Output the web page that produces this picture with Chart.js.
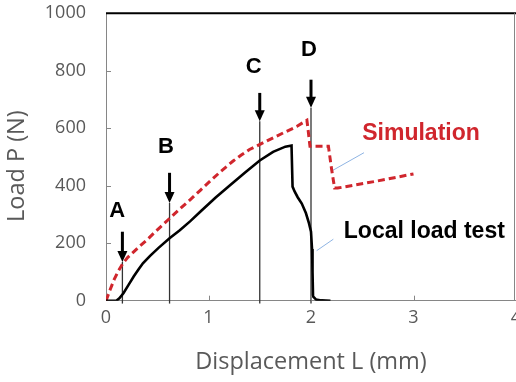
<!DOCTYPE html>
<html><head><meta charset="utf-8">
<script src="https://cdn.jsdelivr.net/npm/chart.js@4.4.1/dist/chart.umd.min.js"></script>
<style>
html,body{margin:0;padding:0;background:#fff;overflow:hidden}
#wrap{width:516px;height:382px;overflow:hidden;position:relative}
#c{position:absolute;left:0;top:0}
</style></head><body>
<div id="wrap"><canvas id="c" width="530" height="382"></canvas></div>
<script>
// ---- data ----
const xTicks = [0, 1, 2, 3, 4];
const yTicks = [0, 200, 400, 600, 800, 1000];

const testX = [0, 0.10, 0.13, 0.17, 0.22, 0.27, 0.32, 0.36, 0.43, 0.51, 0.62, 0.72, 0.82, 0.93, 1.07, 1.21, 1.36, 1.50, 1.63, 1.75, 1.81, 1.82, 1.84, 1.87, 1.91, 1.95, 1.98, 2.00, 2.01, 2.015, 2.02, 2.05, 2.10, 2.19];
const testP = [0, 0, 8, 26, 55, 84, 110, 130, 156, 183, 217, 245, 276, 313, 359, 402, 447, 488, 518, 536, 540, 397, 380, 360, 338, 305, 270, 240, 180, 100, 15, 4, 1, 0];

const simX = [0, 0.04, 0.08, 0.12, 0.16, 0.21, 0.27, 0.33, 0.40, 0.47, 0.53, 0.62, 0.72, 0.82, 0.92, 1.01, 1.12, 1.24, 1.32, 1.40, 1.57, 1.73, 1.86, 1.96, 1.97, 1.99, 2.17, 2.20, 2.23, 2.26, 2.64, 3.0];
const simP = [0, 38, 74, 103, 127, 150, 170, 190, 212, 236, 256, 286, 319, 351, 384, 414, 450, 486, 507, 526, 556, 584, 606, 628, 600, 537, 537, 460, 392, 392, 416, 441];

const markerNames = ['A', 'B', 'C', 'D'];
const markerX = [0.16, 0.62, 1.50, 2.00];
const arrowTipP = [135, 340, 624, 671];
const arrowTailP = [240, 445, 723, 769];
const markerLabelX = [0.11, 0.585, 1.44, 1.98];
const markerLabelP = [313, 536, 814, 873];
const lineBottomP = -10;

const simLabel = 'Simulation';
const testLabel = 'Local load test';
const simLabelPos = [2.50, 580];
const testLabelPos = [2.32, 239];
const simLeaderX = [2.205, 2.517], simLeaderP = [452, 515];
const testLeaderX = [2.055, 2.218], testLeaderP = [174, 214];

// ---- styling ----
const GRAY_TEXT = '#595959';
const AXIS_GRAY = '#868686';
const RED = '#d0262d';
const LEADER = '#8fb4e3';

const pts = (xs, ys) => xs.map((x, i) => ({x, y: ys[i]}));

const datasets = [
  {label: 'test', data: pts(testX, testP), borderColor: '#000', borderWidth: 2.6, pointRadius: 0, showLine: true, tension: 0, fill: false},
  {label: 'sim', data: pts(simX, simP), borderColor: RED, borderWidth: 3, borderDash: [7, 4], pointRadius: 0, showLine: true, tension: 0, fill: false},
];
markerX.forEach((mx, i) => {
  datasets.push({label: 'v' + i, data: [{x: mx, y: lineBottomP}, {x: mx, y: arrowTipP[i]}], borderColor: '#333', borderWidth: 1.3, pointRadius: 0, showLine: true, clip: false});
});
datasets.push({label: 'l1', data: pts(simLeaderX, simLeaderP), borderColor: LEADER, borderWidth: 1, pointRadius: 0, showLine: true});
datasets.push({label: 'l2', data: pts(testLeaderX, testLeaderP), borderColor: LEADER, borderWidth: 1, pointRadius: 0, showLine: true});

const decor = {
  id: 'decor',
  afterDatasetsDraw(chart) {
    const {ctx, chartArea: a, scales: {x, y}} = chart;
    ctx.save();
    ctx.strokeStyle = AXIS_GRAY; ctx.lineWidth = 1;
    yTicks.forEach(v => { if (v === 0 || v === 1000) return; const py = Math.round(y.getPixelForValue(v)) + 0.5; ctx.beginPath(); ctx.moveTo(a.left, py); ctx.lineTo(a.left + 5, py); ctx.stroke(); });
    xTicks.forEach(v => { if (v === 0) return; const px = Math.round(x.getPixelForValue(v)) + 0.5; ctx.beginPath(); ctx.moveTo(px, a.bottom); ctx.lineTo(px, a.bottom - 5); ctx.stroke(); });
    ctx.strokeStyle = '#000'; ctx.lineWidth = 2;
    ctx.beginPath(); ctx.moveTo(a.left, a.top); ctx.lineTo(a.right, a.top); ctx.stroke();
    ctx.strokeStyle = AXIS_GRAY; ctx.lineWidth = 1;
    ctx.beginPath(); ctx.moveTo(a.right - 1.5, a.top); ctx.lineTo(a.right - 1.5, a.bottom); ctx.stroke();
    ctx.fillStyle = '#000'; ctx.strokeStyle = '#000';
    markerX.forEach((mx, i) => {
      const px = x.getPixelForValue(mx);
      const tip = y.getPixelForValue(arrowTipP[i]);
      const tail = y.getPixelForValue(arrowTailP[i]);
      ctx.lineWidth = 3;
      ctx.beginPath(); ctx.moveTo(px, tail); ctx.lineTo(px, tip - 9); ctx.stroke();
      ctx.beginPath(); ctx.moveTo(px - 5, tip - 11); ctx.lineTo(px + 5, tip - 11); ctx.lineTo(px, tip); ctx.closePath(); ctx.fill();
      ctx.font = 'bold 22px "Liberation Sans", Arial, sans-serif';
      ctx.textAlign = 'center'; ctx.textBaseline = 'middle';
      ctx.fillText(markerNames[i], x.getPixelForValue(markerLabelX[i]), y.getPixelForValue(markerLabelP[i]));
    });
    ctx.font = 'bold 23px "Liberation Sans", Arial, sans-serif';
    ctx.textAlign = 'left'; ctx.textBaseline = 'middle';
    ctx.fillStyle = RED;
    ctx.fillText(simLabel, x.getPixelForValue(simLabelPos[0]), y.getPixelForValue(simLabelPos[1]));
    ctx.fillStyle = '#000';
    ctx.fillText(testLabel, x.getPixelForValue(testLabelPos[0]), y.getPixelForValue(testLabelPos[1]));
    ctx.restore();
  }
};

new Chart(document.getElementById('c'), {
  type: 'scatter',
  data: {datasets},
  plugins: [decor],
  options: {
    responsive: false, animation: false, devicePixelRatio: 1,
    layout: {padding: {top: 13.3, right: 14, left: 0, bottom: 0}},
    plugins: {legend: {display: false}, tooltip: {enabled: false}},
    scales: {
      x: {
        type: 'linear', min: 0, max: 4,
        afterBuildTicks: s => { s.ticks = xTicks.map(v => ({value: v})); },
        afterFit: s => { s.height = 81.3; s.paddingLeft = 0; s.paddingRight = 0; },
        grid: {display: false, drawTicks: false},
        border: {display: true, color: AXIS_GRAY, width: 1},
        ticks: {padding: 6, color: GRAY_TEXT, font: {family: '"Open Sans"', size: 18}, callback: v => String(v)},
        title: {display: true, text: 'Displacement L (mm)', color: GRAY_TEXT, font: {family: '"Open Sans"', size: 23.5}, padding: {top: 0, bottom: 5.6}}
      },
      y: {
        type: 'linear', min: 0, max: 1000,
        afterBuildTicks: s => { s.ticks = yTicks.map(v => ({value: v})); },
        afterFit: s => { s.width = 106; s.paddingTop = 0; s.paddingBottom = 0; },
        grid: {display: false, drawTicks: false},
        border: {display: true, color: AXIS_GRAY, width: 1},
        ticks: {padding: 20, color: GRAY_TEXT, font: {family: '"Open Sans"', size: 18}, callback: v => String(v)},
        title: {display: true, text: 'Load P (N)\u00a0\u00a0\u00a0', color: GRAY_TEXT, font: {family: '"Open Sans"', size: 23.5}, padding: {top: 3, bottom: 0}}
      }
    }
  }
});
</script>
</body></html>
